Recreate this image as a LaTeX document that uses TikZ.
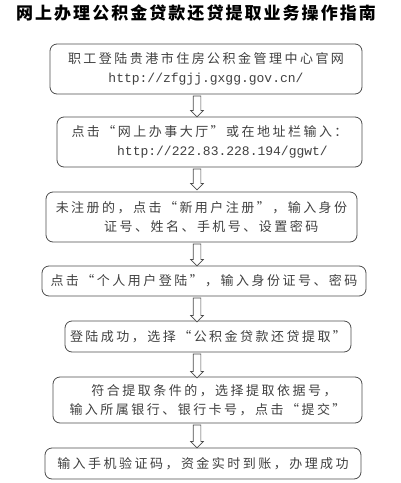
\documentclass[tikz,border=0pt]{standalone}
\usepackage{fontspec}
\newfontfamily\cjk[LetterSpace=19]{Noto Sans CJK SC}
\newfontfamily\cjktitle[LetterSpace=12]{Noto Sans CJK SC}
\newfontfamily\urlfont{Liberation Mono}
\usetikzlibrary{shapes.arrows}

\begin{document}
\begin{tikzpicture}[x=1pt, y=-1pt,
    stepbox/.style={draw=black!70, line width=0.8pt, rounded corners=7pt, inner sep=0pt, align=center, font=\cjk\fontsize{13}{19}\selectfont, text=black!75},
    dnarrow/.style={single arrow, draw=black!70, line width=0.7pt, shape border rotate=270, minimum width=12pt, single arrow head extend=2.5pt, inner sep=3.5pt, fill=white},
    ttl/.style={font=\cjktitle\bfseries\fontsize{17}{17}\selectfont}
]
\useasboundingbox (0,0) rectangle (400,483);
\node[ttl] (title) at (196,13) {网上办理公积金贷款还贷提取业务操作指南};

\node[stepbox, minimum width=312pt, minimum height=50pt] (site) at (206,69) {职工登陆贵港市住房公积金管理中心官网\\{\urlfont\fontsize{13}{19}\selectfont http://zfgjj.gxgg.gov.cn/}};
\node[stepbox, minimum width=305pt, minimum height=50pt] (hall) at (209.5,142) {点击“网上办事大厅”或在地址栏输入：\\\hspace{2em}{\urlfont\fontsize{13}{19}\selectfont http://222.83.228.194/ggwt/}};
\node[stepbox, minimum width=311pt, minimum height=50pt] (reg) at (201.5,217) {未注册的，点击“新用户注册”，输入身份\\\hspace{1.5em}证号、姓名、手机号、设置密码};
\node[stepbox, minimum width=324pt, minimum height=30pt] (user) at (204,281) {点击“个人用户登陆”，输入身份证号、密码};
\node[stepbox, minimum width=286pt, minimum height=31pt] (pick) at (208,336.5) {登陆成功，选择“公积金贷款还贷提取”};
\node[stepbox, minimum width=309pt, minimum height=46pt] (bank) at (207.5,400) {\hspace{1em}符合提取条件的，选择提取依据号，\\输入所属银行、银行卡号，点击“提交”};
\node[stepbox, minimum width=316pt, minimum height=31pt] (done) at (203,463.5) {输入手机验证码，资金实时到账，办理成功};

% hollow arrows between the steps
\node[dnarrow, minimum height=21pt] (a1) at (197,104.5) {};
\node[dnarrow, minimum height=21pt] (a2) at (197,177.5) {};
\node[dnarrow, minimum height=22pt] (a3) at (197,253) {};
\node[dnarrow, minimum height=24pt] (a4) at (197,308) {};
\node[dnarrow, minimum height=24pt] (a5) at (197,364) {};
\node[dnarrow, minimum height=23pt] (a6) at (197,434.5) {};
\end{tikzpicture}
\end{document}
